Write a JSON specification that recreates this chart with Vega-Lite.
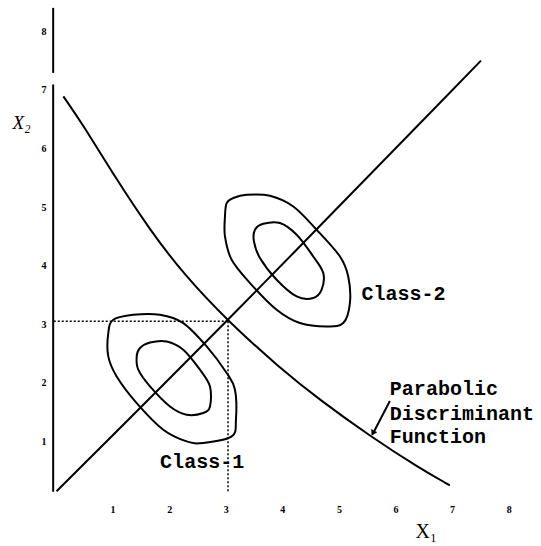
{
  "$schema": "https://vega.github.io/schema/vega-lite/v6.json",
  "width": 481,
  "height": 498,
  "autosize": {"type": "none"},
  "padding": {"left": 56, "top": 2, "right": 4, "bottom": 46},
  "background": "white",
  "config": {
    "view": {"stroke": null},
    "axis": {"grid": false, "domain": false, "ticks": false}
  },
  "datasets": {
    "open": [
      {"curve": "diag", "order": 1, "x": 0.01, "y": 0.15},
      {"curve": "diag", "order": 2, "x": 3.04, "y": 3.06},
      {"curve": "diag", "order": 3, "x": 7.51, "y": 7.5},
      {"curve": "disc", "order": 1, "x": 0.13, "y": 6.89},
      {"curve": "disc", "order": 2, "x": 0.48, "y": 6.4},
      {"curve": "disc", "order": 3, "x": 1.07, "y": 5.47},
      {"curve": "disc", "order": 4, "x": 1.66, "y": 4.61},
      {"curve": "disc", "order": 5, "x": 2.25, "y": 3.86},
      {"curve": "disc", "order": 6, "x": 3.04, "y": 3.05},
      {"curve": "disc", "order": 7, "x": 3.96, "y": 2.25},
      {"curve": "disc", "order": 8, "x": 4.66, "y": 1.71},
      {"curve": "disc", "order": 9, "x": 5.55, "y": 1.09},
      {"curve": "disc", "order": 10, "x": 6.43, "y": 0.54},
      {"curve": "disc", "order": 11, "x": 6.96, "y": 0.25}
    ],
    "contours": [
      {"curve": "c1outer", "order": 1, "x": 0.924, "y": 2.85},
      {"curve": "c1outer", "order": 2, "x": 1.012, "y": 3.077},
      {"curve": "c1outer", "order": 3, "x": 1.366, "y": 3.162},
      {"curve": "c1outer", "order": 4, "x": 1.837, "y": 3.162},
      {"curve": "c1outer", "order": 5, "x": 2.249, "y": 3.02},
      {"curve": "c1outer", "order": 6, "x": 2.663, "y": 2.621},
      {"curve": "c1outer", "order": 7, "x": 3.016, "y": 2.167},
      {"curve": "c1outer", "order": 8, "x": 3.163, "y": 1.882},
      {"curve": "c1outer", "order": 9, "x": 3.18, "y": 1.37},
      {"curve": "c1outer", "order": 10, "x": 3.104, "y": 1.085},
      {"curve": "c1outer", "order": 11, "x": 2.602, "y": 0.973},
      {"curve": "c1outer", "order": 12, "x": 2.309, "y": 1.0},
      {"curve": "c1outer", "order": 13, "x": 1.896, "y": 1.2},
      {"curve": "c1outer", "order": 14, "x": 1.426, "y": 1.655},
      {"curve": "c1outer", "order": 15, "x": 1.072, "y": 2.109},
      {"curve": "c1outer", "order": 16, "x": 0.924, "y": 2.451},
      {"curve": "c1inner", "order": 1, "x": 1.484, "y": 2.594},
      {"curve": "c1inner", "order": 2, "x": 1.661, "y": 2.689},
      {"curve": "c1inner", "order": 3, "x": 1.956, "y": 2.706},
      {"curve": "c1inner", "order": 4, "x": 2.249, "y": 2.565},
      {"curve": "c1inner", "order": 5, "x": 2.544, "y": 2.224},
      {"curve": "c1inner", "order": 6, "x": 2.721, "y": 1.939},
      {"curve": "c1inner", "order": 7, "x": 2.721, "y": 1.597},
      {"curve": "c1inner", "order": 8, "x": 2.602, "y": 1.485},
      {"curve": "c1inner", "order": 9, "x": 2.309, "y": 1.456},
      {"curve": "c1inner", "order": 10, "x": 2.014, "y": 1.597},
      {"curve": "c1inner", "order": 11, "x": 1.661, "y": 1.939},
      {"curve": "c1inner", "order": 12, "x": 1.454, "y": 2.224},
      {"curve": "c1inner", "order": 13, "x": 1.426, "y": 2.451},
      {"curve": "c2outer", "order": 1, "x": 3.016, "y": 5.068},
      {"curve": "c2outer", "order": 2, "x": 3.133, "y": 5.154},
      {"curve": "c2outer", "order": 3, "x": 3.369, "y": 5.21},
      {"curve": "c2outer", "order": 4, "x": 3.781, "y": 5.193},
      {"curve": "c2outer", "order": 5, "x": 4.193, "y": 5.01},
      {"curve": "c2outer", "order": 6, "x": 4.606, "y": 4.613},
      {"curve": "c2outer", "order": 7, "x": 5.018, "y": 4.157},
      {"curve": "c2outer", "order": 8, "x": 5.164, "y": 3.816},
      {"curve": "c2outer", "order": 9, "x": 5.194, "y": 3.362},
      {"curve": "c2outer", "order": 10, "x": 5.076, "y": 3.02},
      {"curve": "c2outer", "order": 11, "x": 4.783, "y": 2.962},
      {"curve": "c2outer", "order": 12, "x": 4.311, "y": 3.02},
      {"curve": "c2outer", "order": 13, "x": 3.899, "y": 3.247},
      {"curve": "c2outer", "order": 14, "x": 3.428, "y": 3.703},
      {"curve": "c2outer", "order": 15, "x": 3.104, "y": 4.101},
      {"curve": "c2outer", "order": 16, "x": 2.986, "y": 4.498},
      {"curve": "c2outer", "order": 17, "x": 2.986, "y": 4.84},
      {"curve": "c2inner", "order": 1, "x": 3.516, "y": 4.613},
      {"curve": "c2inner", "order": 2, "x": 3.663, "y": 4.715},
      {"curve": "c2inner", "order": 3, "x": 3.958, "y": 4.727},
      {"curve": "c2inner", "order": 4, "x": 4.253, "y": 4.527},
      {"curve": "c2inner", "order": 5, "x": 4.546, "y": 4.157},
      {"curve": "c2inner", "order": 6, "x": 4.723, "y": 3.874},
      {"curve": "c2inner", "order": 7, "x": 4.694, "y": 3.589},
      {"curve": "c2inner", "order": 8, "x": 4.546, "y": 3.447},
      {"curve": "c2inner", "order": 9, "x": 4.253, "y": 3.474},
      {"curve": "c2inner", "order": 10, "x": 3.899, "y": 3.759},
      {"curve": "c2inner", "order": 11, "x": 3.604, "y": 4.13},
      {"curve": "c2inner", "order": 12, "x": 3.498, "y": 4.413}
    ],
    "dotted": [
      {"seg": "h", "order": 1, "x": -0.04, "y": 3.05},
      {"seg": "h", "order": 2, "x": 3.04, "y": 3.05},
      {"seg": "v", "order": 1, "x": 3.04, "y": 3.05},
      {"seg": "v", "order": 2, "x": 3.04, "y": 0.14}
    ],
    "axisline": [
      {"x": -0.05, "y": 0.14, "y2": 7.09},
      {"x": -0.05, "y": 7.29, "y2": 8.4}
    ],
    "arrow": [
      {"order": 1, "x": 5.9, "y": 1.69},
      {"order": 2, "x": 5.62, "y": 1.17}
    ],
    "arrowhead": [
      {"x": 5.6, "y": 1.14}
    ],
    "labels": [
      {"label": "Class-1", "x": 1.84, "y": 0.55},
      {"label": "Class-2", "x": 5.4, "y": 3.41},
      {"label": "Parabolic", "x": 5.9, "y": 1.8},
      {"label": "Discriminant", "x": 5.9, "y": 1.37},
      {"label": "Function", "x": 5.9, "y": 0.98}
    ]
  },
  "encoding": {
    "x": {
      "field": "x",
      "type": "quantitative",
      "scale": {"domain": [0, 8.5], "nice": false, "zero": false},
      "axis": {
        "values": [1, 2, 3, 4, 5, 6, 7, 8],
        "labelFont": "Liberation Serif",
        "labelFontWeight": "bold",
        "labelFontSize": 10,
        "labelColor": "black",
        "labelPadding": 4,
        "title": "X₁",
        "titleFont": "Liberation Serif",
        "titleFontSize": 20,
        "titleFontWeight": "normal",
        "titleColor": "black",
        "titleAlign": "left",
        "titleBaseline": "alphabetic",
        "titleX": 359,
        "titleY": 37
      }
    },
    "y": {
      "field": "y",
      "type": "quantitative",
      "scale": {"domain": [0, 8.5], "nice": false, "zero": false},
      "axis": {
        "values": [1, 2, 3, 4, 5, 6, 7, 8],
        "labelFont": "Liberation Serif",
        "labelFontWeight": "bold",
        "labelFontSize": 10,
        "labelColor": "black",
        "labelPadding": 10,
        "title": "X₂",
        "titleFont": "Liberation Serif",
        "titleFontSize": 19,
        "titleFontStyle": "italic",
        "titleFontWeight": "normal",
        "titleColor": "black",
        "titleAngle": 0,
        "titleAlign": "left",
        "titleBaseline": "alphabetic",
        "titleX": -44,
        "titleY": 126
      }
    }
  },
  "layer": [
    {
      "data": {"name": "open"},
      "mark": {"type": "line", "color": "black", "strokeWidth": 2, "interpolate": "basis"},
      "encoding": {
        "detail": {"field": "curve"},
        "order": {"field": "order", "type": "quantitative"}
      }
    },
    {
      "data": {"name": "contours"},
      "mark": {"type": "line", "color": "black", "strokeWidth": 2, "interpolate": "cardinal-closed"},
      "encoding": {
        "detail": {"field": "curve"},
        "order": {"field": "order", "type": "quantitative"}
      }
    },
    {
      "data": {"name": "dotted"},
      "mark": {"type": "line", "color": "black", "strokeWidth": 1.5, "strokeDash": [2, 2]},
      "encoding": {
        "detail": {"field": "seg"},
        "order": {"field": "order", "type": "quantitative"}
      }
    },
    {
      "data": {"name": "axisline"},
      "mark": {"type": "rule", "color": "black", "strokeWidth": 2},
      "encoding": {
        "y2": {"field": "y2"}
      }
    },
    {
      "data": {"name": "arrow"},
      "mark": {"type": "line", "color": "black", "strokeWidth": 2},
      "encoding": {
        "order": {"field": "order", "type": "quantitative"}
      }
    },
    {
      "data": {"name": "arrowhead"},
      "mark": {"type": "point", "shape": "triangle-up", "filled": true, "color": "black", "opacity": 1, "size": 45, "angle": 208},
      "encoding": {}
    },
    {
      "data": {"name": "labels"},
      "mark": {"type": "text", "align": "left", "baseline": "alphabetic", "font": "Liberation Mono", "fontWeight": "bold", "fontSize": 20, "color": "black"},
      "encoding": {
        "text": {"field": "label"}
      }
    }
  ]
}
